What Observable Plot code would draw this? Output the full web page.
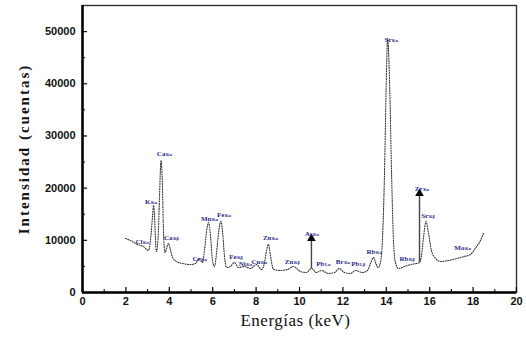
<!DOCTYPE html>
<html><head><meta charset="utf-8">
<script src="https://cdn.jsdelivr.net/npm/d3@7"></script>
<script src="https://cdn.jsdelivr.net/npm/@observablehq/plot@0.6"></script>
<style>body{margin:0;background:#fff}</style>
</head><body><div id="chart"></div>
<script>
// Spectrum (keV, counts)
const energy = [1.98,2.21,2.53,2.81,3.04,3.13,3.23,3.27,3.32,3.36,3.41,3.50,3.55,3.62,3.69,3.73,3.80,3.87,3.96,4.06,4.15,4.33,4.61,4.98,5.21,5.37,5.53,5.62,5.71,5.81,5.90,5.99,6.08,6.18,6.27,6.38,6.47,6.54,6.64,6.82,7.00,7.19,7.47,7.74,8.02,8.25,8.39,8.48,8.57,8.66,8.80,9.12,9.45,9.72,10.05,10.32,10.55,10.78,11.01,11.34,11.61,11.84,12.07,12.35,12.58,12.90,13.13,13.27,13.41,13.50,13.62,13.73,13.82,13.92,13.99,14.06,14.15,14.24,14.33,14.42,14.56,14.84,15.12,15.39,15.53,15.62,15.71,15.83,15.94,16.08,16.27,16.50,16.87,17.24,17.60,17.88,18.16,18.34,18.48];
const counts = [10350,9960,9200,8810,8050,9960,14750,16670,14750,10350,7860,11880,18590,25290,19540,11880,7660,8430,9390,8050,6710,5940,5560,5360,5560,6510,5750,8050,11500,13410,10920,6130,4980,7660,11500,13600,10920,7090,4790,4980,5750,4790,4980,4600,5360,4410,5750,8050,9200,7090,4410,4220,4410,4980,4020,3830,4600,3830,4220,3640,3830,4600,3830,3640,4220,3830,4220,5560,6710,5750,4790,5750,9960,23380,38700,48660,40620,23380,9960,5750,4600,4980,5360,5560,5750,7090,10350,13600,11500,8050,6510,5940,6130,6510,6900,7280,8810,9960,11300];

// Peak labels
const labelEl   = ["Cl","K","Ca","Ca","Cr","Mn","Fe","Fe","Ni","Cu","Zn","Zn","As","Pb","Br","Pb","Rb","Sr","Rb","Zr","Sr","Mo"];
const labelLine = ["Kα","Kα","Kα","Kβ","Kα","Kα","Kα","Kβ","Kα","Kα","Kα","Kβ","Kα","Lα","Kα","Lβ","Kα","Kα","Kβ","Kα","Kβ","Kα"];
const labelE    = [2.76,3.13,3.82,4.15,5.44,5.94,6.54,7.10,7.52,8.20,8.71,9.72,10.60,11.15,12.03,12.76,13.50,14.24,15.02,15.67,15.94,17.60];
const labelI    = [9770,17440,26630,10540,6510,14180,14940,6900,5560,5940,10540,5940,11300,5560,5940,5560,7860,48470,6510,19930,14750,8620];

// Arrows (As Kα, Zr Kα)
const arrowE    = [10.55, 15.53];
const arrowBase = [4600, 5750];
const arrowTip  = [10350, 18970];

// Axis ticks
const xMajor = [0,2,4,6,8,10,12,14,16,18,20];
const xMinor = [1,3,5,7,9,11,13,15,17,19];
const yMajor = [0,10000,20000,30000,40000,50000];
const yMinor = [5000,15000,25000,35000,45000];

const xTitle = "Energías (keV)";
const yTitle = "Intensidad (cuentas)";

const spectrum = energy.map((e, i) => ({e, c: counts[i]}));
const labels = labelEl.map((s, i) => ({s, l: labelLine[i], e: labelE[i], c: labelI[i]}));
const arrows = arrowE.map((e, i) => ({e, b: arrowBase[i], t: arrowTip[i]}));

const labelColor = "#2a2a88";

const chart = Plot.plot({
  width: 526,
  height: 342,
  marginLeft: 82,
  marginRight: 10,
  marginTop: 5,
  marginBottom: 50,
  style: {fontFamily: "Liberation Sans, Arial, sans-serif", background: "#fff", color: "#111"},
  x: {domain: [0, 20]},
  y: {domain: [0, 55000]},
  marks: [
    Plot.frame({stroke: "#333", strokeWidth: 1.4}),
    Plot.tickX(xMajor, {x: d => d, insetTop: 282, stroke: "#000", strokeWidth: 1.2}),
    Plot.tickX(xMinor, {x: d => d, insetTop: 284, stroke: "#000", strokeWidth: 1}),
    Plot.tickY(yMajor, {y: d => d, insetRight: 429, stroke: "#000", strokeWidth: 1.2}),
    Plot.tickY(yMinor, {y: d => d, insetRight: 431, stroke: "#000", strokeWidth: 1}),
    Plot.ruleX([0], {stroke: "#000", strokeWidth: 2.5}),
    Plot.ruleY([0], {stroke: "#000", strokeWidth: 2.5}),
    Plot.axisX({ticks: xMajor, tickSize: 0, tickPadding: 5, tickFormat: d => String(d), fontSize: 11, fontWeight: "bold", label: null}),
    Plot.axisY({ticks: yMajor, tickSize: 0, tickPadding: 7, tickFormat: d => String(d), fontSize: 11, fontWeight: "bold", label: null}),
    Plot.line(spectrum, {x: "e", y: "c", curve: "monotone-x", stroke: "#333", strokeWidth: 1.1, strokeDasharray: "1,1.5"}),
    Plot.ruleX(arrows, {x: "e", y1: "b", y2: "t", stroke: "#444", strokeWidth: 1.4}),
    Plot.dot(arrows, {x: "e", y: "t", symbol: "triangle", r: 3.2, fill: "#000", stroke: "none"}),
    Plot.text(labels, {x: "e", y: "c", text: "s", textAnchor: "end", fontFamily: "Liberation Serif, serif", fontWeight: "bold", fontSize: 7, fill: labelColor}),
    Plot.text(labels, {x: "e", y: "c", text: "l", textAnchor: "start", dx: 0.6, dy: 1.5, fontFamily: "Liberation Serif, serif", fontWeight: "bold", fontSize: 4.4, fill: labelColor}),
    Plot.text([yTitle], {frameAnchor: "left", text: d => d, rotate: -90, textAnchor: "middle", lineAnchor: "middle", dx: -58, fontFamily: "Liberation Serif, serif", fontWeight: "bold", fontSize: 15, fill: "#111", className: "ytitle"}),
    Plot.text([xTitle], {frameAnchor: "bottom", text: d => d, textAnchor: "middle", lineAnchor: "middle", dy: 28, dx: -4, fontFamily: "Liberation Serif, serif", fontSize: 17, fill: "#111", className: "xtitle"})
  ]
});
d3.select(chart).selectAll(".ytitle text").attr("letter-spacing", "2px");
d3.select(chart).selectAll(".xtitle text").attr("letter-spacing", "0.5px");
document.getElementById("chart").appendChild(chart);
</script>
</body></html>
